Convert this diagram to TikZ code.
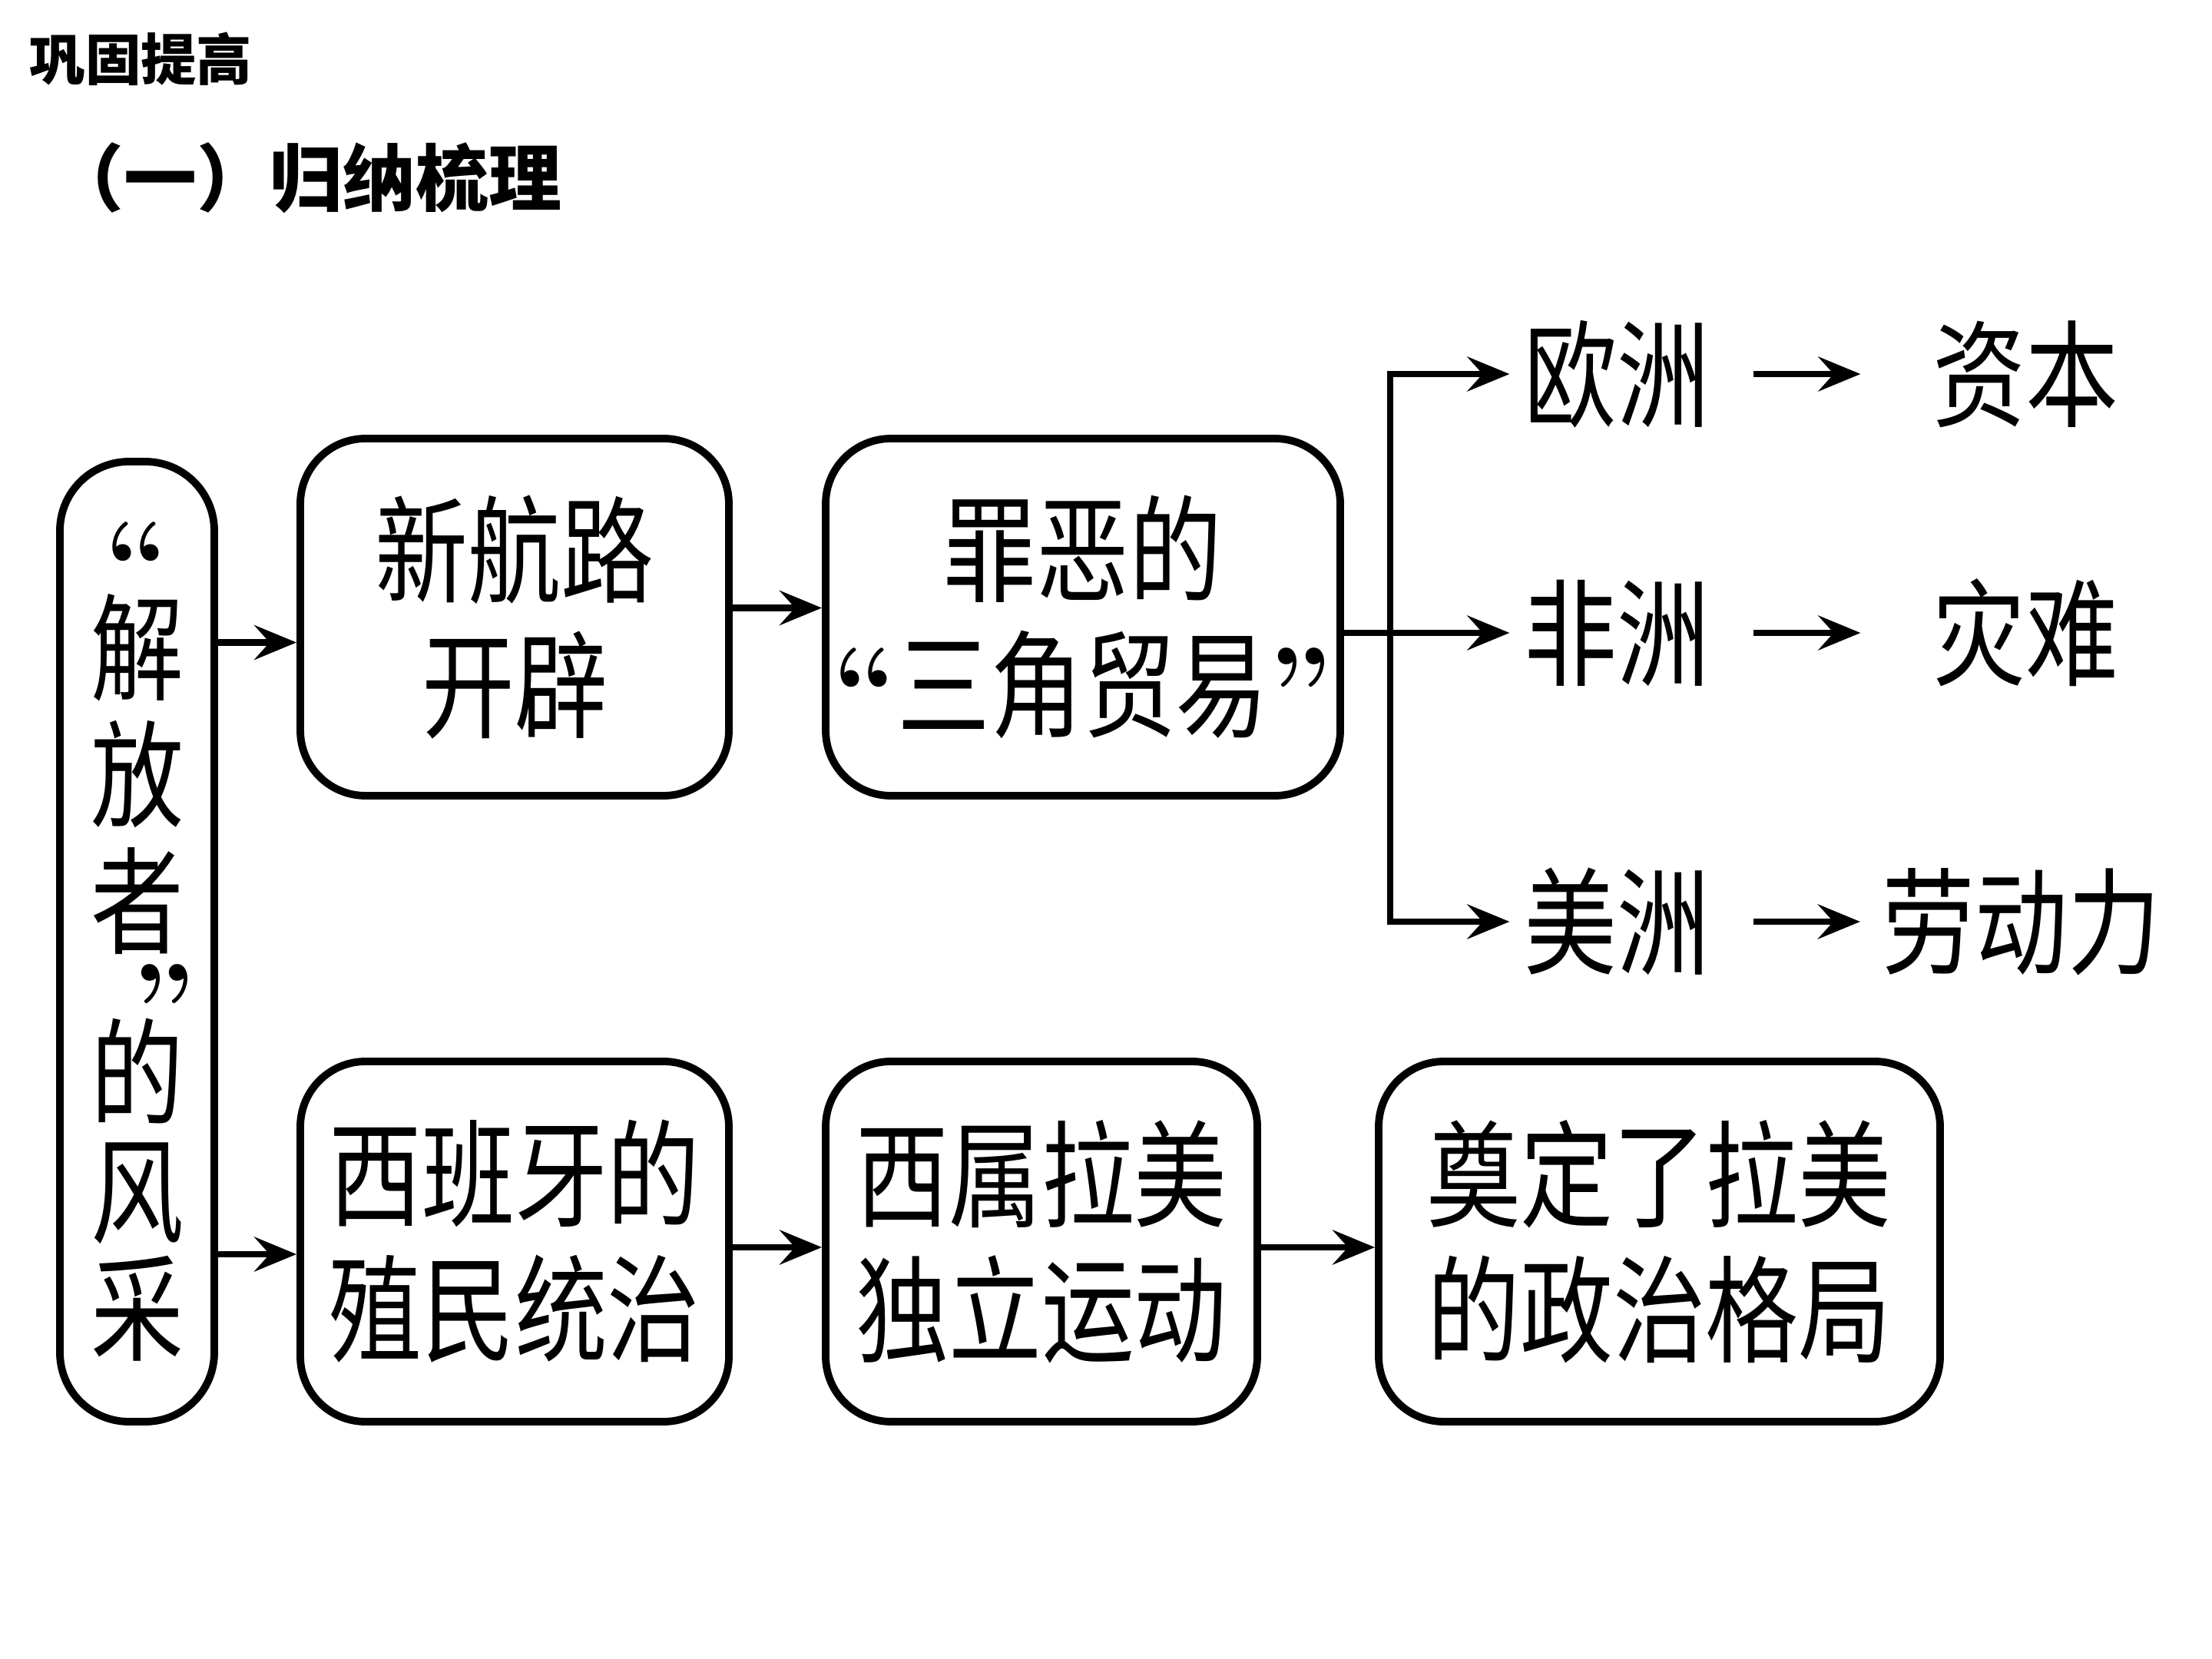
\documentclass[tikz,border=0pt]{standalone}
\usepackage{fontspec}
\usetikzlibrary{arrows.meta}
\newfontfamily\cjk[FakeStretch=0.8]{Noto Sans CJK SC}
\newfontfamily\cjkhead{Noto Sans CJK SC}

\begin{document}
\begin{tikzpicture}[
  box/.style={draw, line width=2.8pt, rounded corners=0.85cm, align=center, inner sep=0pt, font=\cjk\fontsize{43}{50}\selectfont},
  word/.style={inner xsep=0.18cm, inner ysep=0pt, font=\cjk\fontsize{43}{50}\selectfont},
  arr/.style={line width=2.4pt, -{Stealth[length=0.55cm, width=0.45cm, inset=0.2cm]}}
]
 \useasboundingbox (0,0) rectangle (28.8,-21.6);

 % headings
 \node[anchor=west, inner sep=0pt, font=\cjkhead\bfseries\fontsize{20.6}{24}\selectfont] (head) at (0.38,-0.77) {巩固提高};
 \node[anchor=west, inner sep=0pt, font=\cjkhead\bfseries\fontsize{27}{30}\selectfont] (sub) at (0.66,-2.32) {（一）归纳梳理};

 % boxes
 \node[box, minimum width=2.01cm, minimum height=12.5cm, rounded corners=0.9cm, font=\cjk\fontsize{43}{47}\selectfont] (lib) at (1.785,-12.26)
   {{\rmfamily\bfseries “}\hspace{0.6cm}\\[-0.5cm]解\\放\\者\\[-0.35cm]\hspace{0.7cm}{\rmfamily\bfseries ”}\\[-0.72cm]的\\[-0.12cm]风\\[-0.12cm]采};
 \node[box, minimum width=5.58cm, minimum height=4.65cm] (nav) at (6.70,-8.035) {新航路\\开辟};
 \node[box, minimum width=6.70cm, minimum height=4.65cm] (trade) at (14.10,-8.035) {罪恶的\\{\rmfamily\bfseries “}三角贸易{\rmfamily\bfseries ”}};
 \node[box, minimum width=5.58cm, minimum height=4.69cm] (spain) at (6.70,-16.165) {西班牙的\\殖民统治};
 \node[box, minimum width=5.62cm, minimum height=4.69cm] (indep) at (13.56,-16.165) {西属拉美\\独立运动};
 \node[box, minimum width=7.31cm, minimum height=4.69cm] (polit) at (21.605,-16.165) {奠定了拉美\\的政治格局};

 % continents
 \node[word] (eu) at (21.05,-4.87) {欧洲};
 \node[word] (af) at (21.05,-8.24) {非洲};
 \node[word] (am) at (21.05,-12.0) {美洲};
 \node[word] (cap) at (26.37,-4.87) {资本};
 \node[word] (dis) at (26.37,-8.24) {灾难};
 \node[word] (lab) at (26.32,-12.0) {劳动力};
 \coordinate (fork) at (18.1,-8.24);

 % arrows
 \draw[arr] ([yshift=-0.33cm]nav.west -| lib.east) -- ([yshift=-0.33cm]nav.west);
 \draw[arr] ([yshift=0.12cm]nav.east) -- ([yshift=0.12cm]trade.west);
 \draw[line width=2.4pt] (trade.east |- fork) -- (fork);
 \draw[arr] (fork) |- (eu.west);
 \draw[arr] (fork) -- (af.west);
 \draw[arr] (fork) |- (am.west);
 \draw[arr, shorten <=0.38cm, shorten >=0.75cm] (eu.east) -- (cap.west);
 \draw[arr, shorten <=0.38cm, shorten >=0.75cm] (af.east) -- (dis.west);
 \draw[arr, shorten <=0.38cm, shorten >=0.1cm] (am.east) -- (lab.west);

 \draw[arr] ([yshift=-0.165cm]spain.west -| lib.east) -- ([yshift=-0.165cm]spain.west);
 \draw[arr] ([yshift=-0.075cm]spain.east) -- ([yshift=-0.075cm]indep.west);
 \draw[arr] ([yshift=-0.075cm]indep.east) -- ([yshift=-0.075cm]polit.west);

\end{tikzpicture}
\end{document}
